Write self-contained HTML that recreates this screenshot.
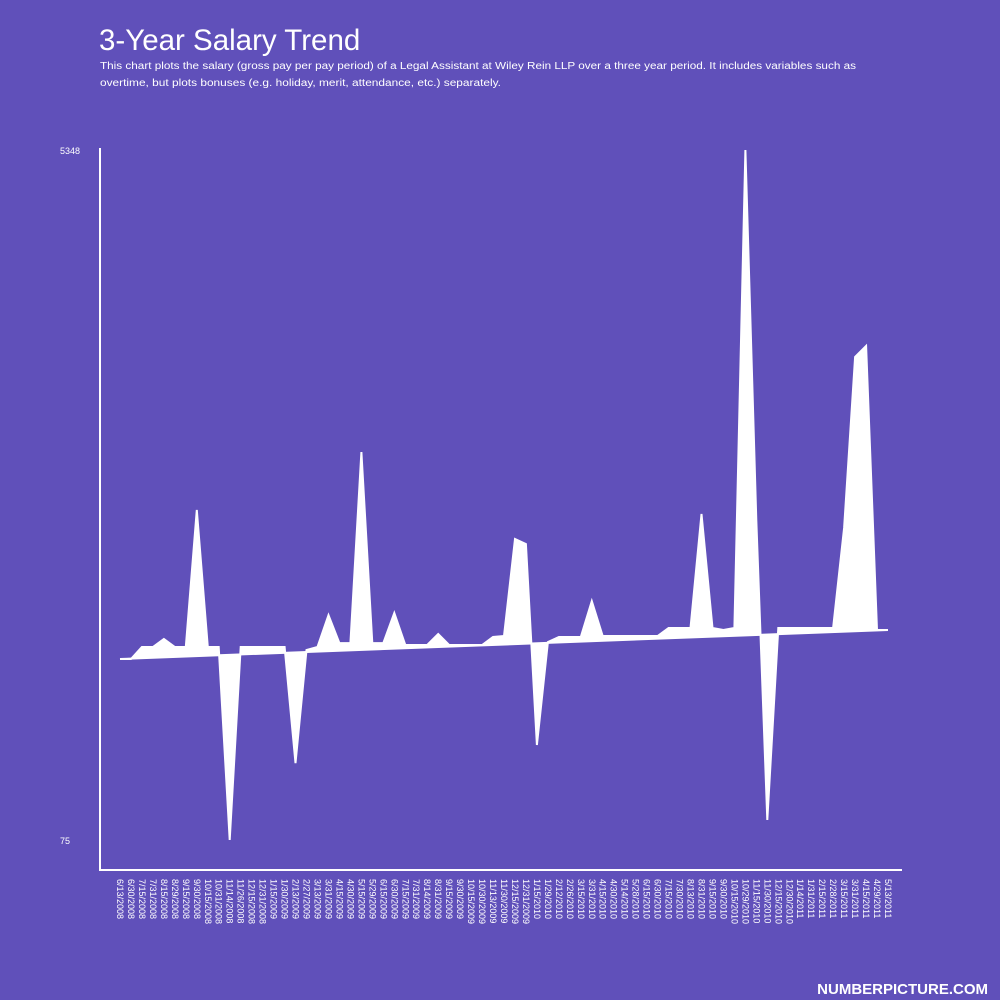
<!DOCTYPE html>
<html><head><meta charset="utf-8"><style>
html,body{margin:0;padding:0;background:#6050BA;}
svg{display:block;font-family:"Liberation Sans",sans-serif;}
</style></head><body>
<svg id="chart" width="1000" height="1000" viewBox="0 0 1000 1000">
<rect width="1000" height="1000" fill="#6050BA"/>
<text x="99" y="50" font-size="29.5" fill="#fff">3-Year Salary Trend</text>
<text x="100" y="69" font-size="10" fill="#fff" textLength="756" lengthAdjust="spacingAndGlyphs">This chart plots the salary (gross pay per pay period) of a Legal Assistant at Wiley Rein LLP over a three year period.  It includes variables such as</text>
<text x="100" y="86" font-size="10" fill="#fff" textLength="401" lengthAdjust="spacingAndGlyphs">overtime, but plots bonuses (e.g. holiday, merit, attendance, etc.) separately.</text>
<g id="plot"></g>
<line x1="100" y1="148" x2="100" y2="870" stroke="#fff" stroke-width="2"/>
<line x1="99" y1="870" x2="902" y2="870" stroke="#fff" stroke-width="2"/>
<g id="xlabels"></g>
<g id="ylabels"></g>
<text x="988" y="994" font-size="15" font-weight="bold" fill="#fff" text-anchor="end">NUMBERPICTURE.COM</text>
</svg>
<script>
const dates = ["6/13/2008","6/30/2008","7/15/2008","7/31/2008","8/15/2008","8/29/2008","9/15/2008","9/30/2008","10/15/2008","10/31/2008","11/14/2008","11/26/2008","12/15/2008","12/31/2008","1/15/2009","1/30/2009","2/13/2009","2/27/2009","3/13/2009","3/31/2009","4/15/2009","4/30/2009","5/15/2009","5/29/2009","6/15/2009","6/30/2009","7/15/2009","7/31/2009","8/14/2009","8/31/2009","9/15/2009","9/30/2009","10/15/2009","10/30/2009","11/13/2009","11/30/2009","12/15/2009","12/31/2009","1/15/2010","1/29/2010","2/12/2010","2/26/2010","3/15/2010","3/31/2010","4/15/2010","4/30/2010","5/14/2010","5/28/2010","6/15/2010","6/30/2010","7/15/2010","7/30/2010","8/13/2010","8/31/2010","9/15/2010","9/30/2010","10/15/2010","10/29/2010","11/15/2010","11/30/2010","12/15/2010","12/30/2010","1/14/2011","1/31/2011","2/15/2011","2/28/2011","3/15/2011","3/31/2011","4/15/2011","4/29/2011","5/13/2011"];
const salary = [1458,1458,1550,1550,1611,1550,1550,2597,1550,1550,75,1550,1550,1550,1550,1550,663,1527,1550,1794,1580,1580,3040,1580,1580,1810,1565,1565,1565,1649,1565,1565,1565,1565,1626,1634,2375,2337,801,1588,1626,1626,1626,1901,1634,1634,1634,1634,1634,1634,1695,1695,1695,2566,1695,1680,1695,5348,2520,228,1695,1695,1695,1695,1695,1695,2459,3766,3850,1680,1680];
const yTicks = [75, 5348];

const NS = "http://www.w3.org/2000/svg";
const X0 = 120, X1 = 888, YTOP = 150, YBOT = 840;
const yMin = yTicks[0], yMax = yTicks[yTicks.length-1];
const xs = i => X0 + (X1 - X0) * i / (salary.length - 1);
const ys = v => YBOT - (v - yMin) / (yMax - yMin) * (YBOT - YTOP);

// trend: straight line from first to last salary value
const n = salary.length;
const slope = (salary[n-1] - salary[0]) / (n - 1);
const icpt = salary[0];
const trend = i => icpt + slope*i;

const plot = document.getElementById('plot');
let d = salary.map((v,i)=>(i?'L':'M')+xs(i).toFixed(1)+','+ys(v).toFixed(1)).join(' ');
for (let i=n-1;i>=0;i--) d += ' L'+xs(i).toFixed(1)+','+ys(trend(i)).toFixed(1);
d += ' Z';
const area = document.createElementNS(NS,'path');
area.setAttribute('d', d);
area.setAttribute('fill', '#fff');


plot.appendChild(area);

const line = document.createElementNS(NS,'polyline');
line.setAttribute('points', salary.map((v,i)=>xs(i).toFixed(1)+','+ys(v).toFixed(1)).join(' '));
line.setAttribute('fill', 'none');
line.setAttribute('stroke', '#fff');
line.setAttribute('stroke-width', '2');


plot.appendChild(line);

const tl = document.createElementNS(NS,'line');
tl.setAttribute('x1', xs(0)); tl.setAttribute('y1', ys(trend(0)));
tl.setAttribute('x2', xs(n-1)); tl.setAttribute('y2', ys(trend(n-1)));
tl.setAttribute('stroke', '#fff');
tl.setAttribute('stroke-width', '2');


plot.appendChild(tl);

const xl = document.getElementById('xlabels');
dates.forEach((t,i)=>{
  const el = document.createElementNS(NS,'text');
  const x = xs(i) - 3;
  el.setAttribute('transform', 'translate('+x.toFixed(1)+',879) rotate(90)');
  el.setAttribute('font-size', '9');
  el.setAttribute('fill', '#fff');
  el.textContent = t;
  
  
  xl.appendChild(el);
});

const yl = document.getElementById('ylabels');
yTicks.forEach(v=>{
  const el = document.createElementNS(NS,'text');
  el.setAttribute('x', '60');
  el.setAttribute('y', (ys(v)+4).toFixed(1));
  el.setAttribute('font-size', '9');
  el.setAttribute('fill', '#fff');
  el.textContent = v;
  
  
  yl.appendChild(el);
});
</script>
</body></html>
